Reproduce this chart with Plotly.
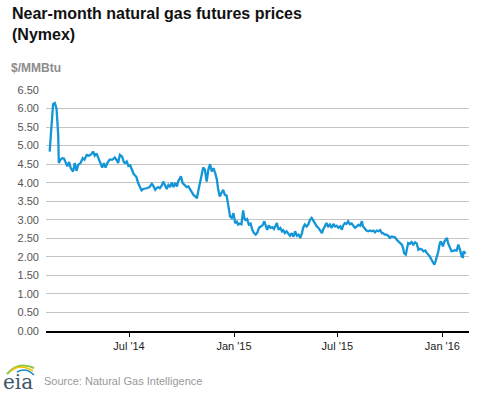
import plotly.graph_objects as go

# ---- data ----
dates = [
    "2014-02-12", "2014-02-14", "2014-02-18", "2014-02-21", "2014-02-24", "2014-02-27", "2014-02-28",
    "2014-03-03", "2014-03-06", "2014-03-09", "2014-03-12", "2014-03-15", "2014-03-18", "2014-03-21",
    "2014-03-25", "2014-03-28", "2014-03-31", "2014-04-03", "2014-04-07", "2014-04-11", "2014-04-14",
    "2014-04-18", "2014-04-22", "2014-04-26", "2014-04-29", "2014-05-02", "2014-05-05", "2014-05-08",
    "2014-05-12", "2014-05-15", "2014-05-18", "2014-05-21", "2014-05-24", "2014-05-28", "2014-06-02",
    "2014-06-06", "2014-06-09", "2014-06-12", "2014-06-15", "2014-06-19", "2014-06-22", "2014-06-24",
    "2014-06-27", "2014-06-30", "2014-07-03", "2014-07-06", "2014-07-09", "2014-07-12", "2014-07-14",
    "2014-07-17", "2014-07-20", "2014-07-23", "2014-07-26", "2014-07-29", "2014-08-01", "2014-08-06",
    "2014-08-10", "2014-08-13", "2014-08-16", "2014-08-18", "2014-08-21", "2014-08-24", "2014-08-27",
    "2014-08-30", "2014-09-02", "2014-09-05", "2014-09-08", "2014-09-11", "2014-09-14", "2014-09-17",
    "2014-09-20", "2014-09-23", "2014-09-25", "2014-09-30", "2014-10-03", "2014-10-07", "2014-10-10",
    "2014-10-13", "2014-10-16", "2014-10-19", "2014-10-22", "2014-10-25", "2014-10-28", "2014-10-30",
    "2014-11-02", "2014-11-05", "2014-11-08", "2014-11-11", "2014-11-14", "2014-11-17", "2014-11-20",
    "2014-11-23", "2014-11-26", "2014-11-29", "2014-12-02", "2014-12-04", "2014-12-07", "2014-12-10",
    "2014-12-13", "2014-12-16", "2014-12-19", "2014-12-22", "2014-12-25", "2014-12-28", "2014-12-31",
    "2015-01-03", "2015-01-06", "2015-01-08", "2015-01-11", "2015-01-14", "2015-01-17", "2015-01-19",
    "2015-01-21", "2015-01-24", "2015-01-27", "2015-01-30", "2015-02-02", "2015-02-05", "2015-02-08",
    "2015-02-11", "2015-02-14", "2015-02-17", "2015-02-20", "2015-02-23", "2015-02-26", "2015-02-28",
    "2015-03-03", "2015-03-06", "2015-03-09", "2015-03-12", "2015-03-17", "2015-03-20", "2015-03-23",
    "2015-03-26", "2015-03-28", "2015-03-31", "2015-04-03", "2015-04-06", "2015-04-09", "2015-04-12",
    "2015-04-15", "2015-04-18", "2015-04-21", "2015-04-24", "2015-04-27", "2015-04-30", "2015-05-02",
    "2015-05-05", "2015-05-08", "2015-05-11", "2015-05-14", "2015-05-17", "2015-05-20", "2015-05-23",
    "2015-05-26", "2015-05-29", "2015-06-01", "2015-06-04", "2015-06-06", "2015-06-09", "2015-06-12",
    "2015-06-15", "2015-06-18", "2015-06-21", "2015-06-24", "2015-06-27", "2015-06-30", "2015-07-03",
    "2015-07-06", "2015-07-09", "2015-07-11", "2015-07-14", "2015-07-17", "2015-07-20", "2015-07-23",
    "2015-07-26", "2015-07-29", "2015-08-01", "2015-08-04", "2015-08-07", "2015-08-10", "2015-08-13",
    "2015-08-15", "2015-08-18", "2015-08-21", "2015-08-24", "2015-08-27", "2015-08-30", "2015-09-02",
    "2015-09-05", "2015-09-08", "2015-09-11", "2015-09-14", "2015-09-17", "2015-09-19", "2015-09-22",
    "2015-09-25", "2015-09-28", "2015-10-01", "2015-10-04", "2015-10-07", "2015-10-10", "2015-10-13",
    "2015-10-16", "2015-10-19", "2015-10-22", "2015-10-24", "2015-10-26", "2015-10-29", "2015-10-31",
    "2015-11-02", "2015-11-05", "2015-11-08", "2015-11-11", "2015-11-14", "2015-11-17", "2015-11-20",
    "2015-11-23", "2015-11-26", "2015-11-29", "2015-12-02", "2015-12-05", "2015-12-07", "2015-12-10",
    "2015-12-13", "2015-12-16", "2015-12-18", "2015-12-20", "2015-12-23", "2015-12-25", "2015-12-27",
    "2015-12-29", "2015-12-31", "2016-01-02", "2016-01-04", "2016-01-07", "2016-01-09", "2016-01-11",
    "2016-01-14", "2016-01-17", "2016-01-20", "2016-01-23", "2016-01-26", "2016-01-29", "2016-02-01",
    "2016-02-04", "2016-02-06", "2016-02-07", "2016-02-10", "2016-02-11",
]

prices = [
    4.84, 5.20, 6.12, 6.15, 6.00, 5.29, 4.53,
    4.62, 4.66, 4.65, 4.53, 4.44, 4.56, 4.39,
    4.30, 4.53, 4.32, 4.48, 4.53, 4.66, 4.62,
    4.75, 4.73, 4.77, 4.84, 4.73, 4.79, 4.66,
    4.48, 4.41, 4.53, 4.41, 4.53, 4.62, 4.62,
    4.68, 4.62, 4.53, 4.75, 4.70, 4.55, 4.53,
    4.57, 4.45, 4.47, 4.35, 4.24, 4.19, 4.15,
    3.99, 3.88, 3.79, 3.83, 3.83, 3.85, 3.88,
    3.97, 3.90, 3.81, 3.85, 3.88, 3.85, 3.91,
    4.03, 3.90, 3.83, 3.94, 3.88, 4.01, 3.88,
    3.99, 3.90, 4.03, 4.17, 3.99, 3.94, 3.88,
    3.90, 3.81, 3.74, 3.67, 3.63, 3.58, 3.75,
    4.00, 4.20, 4.41, 4.35, 4.03, 4.35, 4.50,
    4.30, 4.39, 4.26, 4.08, 3.85, 3.63, 3.72,
    3.81, 3.67, 3.65, 3.38, 3.09, 3.05, 3.18,
    2.91, 2.95, 2.87, 2.90, 2.88, 3.25, 3.05,
    2.99, 3.02, 2.87, 2.90, 2.73, 2.64, 2.60,
    2.66, 2.79, 2.82, 2.85, 2.96, 2.85, 2.73,
    2.85, 2.78, 2.80, 2.75, 2.91, 2.73, 2.78,
    2.69, 2.72, 2.64, 2.69, 2.64, 2.57, 2.64,
    2.54, 2.69, 2.57, 2.60, 2.51, 2.64, 2.78,
    2.87, 2.82, 2.87, 3.00, 3.05, 2.96, 2.87,
    2.82, 2.78, 2.69, 2.64, 2.73, 2.82, 2.91,
    2.82, 2.87, 2.78, 2.89, 2.82, 2.84, 2.78,
    2.82, 2.73, 2.84, 2.91, 2.89, 2.96, 2.88,
    2.90, 2.84, 2.78, 2.82, 2.86, 2.84, 2.96,
    2.82, 2.75, 2.71, 2.69, 2.71, 2.69, 2.71,
    2.66, 2.71, 2.69, 2.72, 2.64, 2.64, 2.60,
    2.60, 2.57, 2.51, 2.55, 2.55, 2.53, 2.46,
    2.42, 2.38, 2.33, 2.25, 2.10, 2.06, 2.28,
    2.37, 2.35, 2.40, 2.33, 2.39, 2.36, 2.19,
    2.22, 2.20, 2.15, 2.17, 2.10, 2.07, 2.01,
    1.92, 1.84, 1.79, 1.88, 2.01, 2.15, 2.33,
    2.42, 2.36, 2.28, 2.40, 2.46, 2.51, 2.37,
    2.24, 2.15, 2.16, 2.18, 2.17, 2.33, 2.18,
    2.01, 2.00, 2.15, 2.10, 2.09,
]

x_tick_dates = ["2014-07-01", "2015-01-01", "2015-07-01", "2016-01-01"]
x_tick_labels = ["Jul '14", "Jan '15", "Jul '15", "Jan '16"]
y_tick_values = [0, 0.5, 1, 1.5, 2, 2.5, 3, 3.5, 4, 4.5, 5, 5.5, 6, 6.5]

title_text = "Near-month natural gas futures prices<br>(Nymex)"
unit_text = "$/MMBtu"
source_text = "Source: Natural Gas Intelligence"

# ---- layout geometry ----
W, H = 477, 393
L, R, T, B = 46, 8, 90, 62
PW, PH = W - L - R, H - T - B


def px_x(px):
    return (px - L) / PW


def px_y(py):
    return 1 - (py - T) / PH


FONT = "Liberation Sans, Arial, sans-serif"

fig = go.Figure()
fig.add_trace(go.Scatter(
    x=dates, y=prices, mode="lines",
    line=dict(color="#1496d6", width=2.3),
    hoverinfo="skip", showlegend=False,
))

fig.update_layout(
    width=W, height=H,
    margin=dict(l=L, r=R, t=T, b=B),
    paper_bgcolor="white", plot_bgcolor="white",
    font=dict(family=FONT, size=11, color="#555"),
    showlegend=False,
    xaxis=dict(
        type="date",
        range=["2014-02-05 14:00", "2016-02-16 16:00"],
        tickvals=x_tick_dates, ticktext=x_tick_labels,
        showgrid=False, zeroline=False,
        showline=True, linecolor="#000", linewidth=1.5,
        ticks="outside", ticklen=4, tickcolor="#000", tickwidth=1,
        tickfont=dict(family=FONT, size=11, color="#222"),
        fixedrange=True,
    ),
    yaxis=dict(
        range=[0, 6.5],
        tickvals=y_tick_values, tickformat=".2f",
        showgrid=True, gridcolor="#c4c4c4", gridwidth=1,
        zeroline=False, showline=False,
        ticks="", ticklabelstandoff=6,
        tickfont=dict(family=FONT, size=11, color="#555"),
        fixedrange=True,
    ),
    annotations=[
        dict(text="<b>" + title_text + "</b>", xref="paper", yref="paper",
             x=px_x(10), y=px_y(3), xanchor="left", yanchor="top", align="left",
             showarrow=False, font=dict(family=FONT, size=16, color="#111")),
        dict(text="<b>" + unit_text + "</b>", xref="paper", yref="paper",
             x=px_x(9), y=px_y(68), xanchor="left", yanchor="middle", align="left",
             showarrow=False, font=dict(family=FONT, size=12, color="#8c8c8c")),
        dict(text=source_text, xref="paper", yref="paper",
             x=px_x(42), y=px_y(381), xanchor="left", yanchor="middle", align="left",
             showarrow=False, font=dict(family=FONT, size=11, color="#999")),
        dict(text="eia", xref="paper", yref="paper",
             x=px_x(18), y=px_y(382), xanchor="center", yanchor="middle",
             showarrow=False, font=dict(family="DejaVu Serif, serif", size=20, color="#3d5566")),
    ],
    shapes=[
        dict(type="path", xref="paper", yref="paper",
             path="M {},{} Q {},{} {},{}".format(px_x(7), px_y(374), px_x(18), px_y(361), px_x(34), px_y(368)),
             line=dict(color="#8dc63f", width=2)),
        dict(type="path", xref="paper", yref="paper",
             path="M {},{} Q {},{} {},{}".format(px_x(11), px_y(371), px_x(20), px_y(363), px_x(33), px_y(371)),
             line=dict(color="#f2c200", width=1.5)),
        dict(type="path", xref="paper", yref="paper",
             path="M {},{} Q {},{} {},{}".format(px_x(17), px_y(372), px_x(26), px_y(367), px_x(34), px_y(375)),
             line=dict(color="#1a8bc9", width=1.5)),
    ],
)

fig.write_html(
    "out.html",
    config={"displayModeBar": False, "staticPlot": True},
    post_script="document.body.style.margin='0px';document.body.style.overflow='hidden';",
)
